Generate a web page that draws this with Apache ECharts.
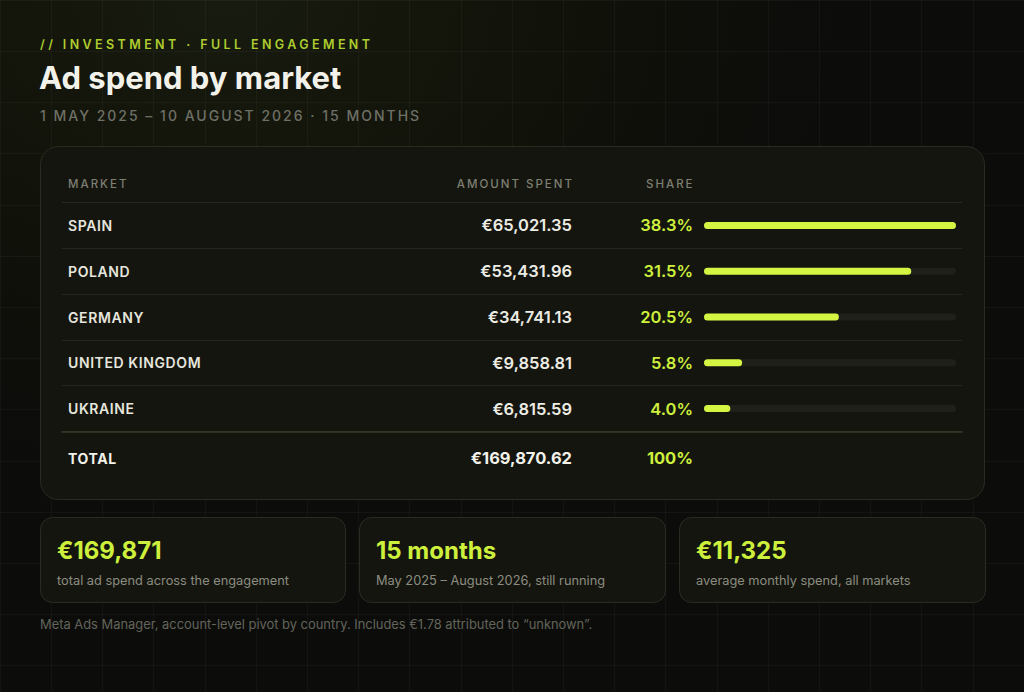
<!DOCTYPE html>
<html>
<head>
<meta charset="utf-8">
<title>Ad spend by market</title>
<script src="https://cdn.jsdelivr.net/npm/echarts@6.0.0/dist/echarts.min.js"></script>
<style>
  html, body { margin: 0; padding: 0; background: #0c0c0b; }
  #chart {
    width: 1024px;
    height: 692px;
    background: radial-gradient(ellipse 70% 80% at 22% 0%, #181b10 0%, #111209 45%, #0c0c0b 85%);
  }
  /* svg renderer: tracking for the small caps labels */
  #chart text[style*="lsWide"] { letter-spacing: 3.4px; }
  #chart text[style*="lsMid"] { letter-spacing: 2px; }
  #chart text[style*="lsNarrow"] { letter-spacing: 0.6px; }
</style>
</head>
<body>
<div id="chart"></div>
<script>
// --- data ---
const markets = ['SPAIN', 'POLAND', 'GERMANY', 'UNITED KINGDOM', 'UKRAINE'];
const amounts = [65021.35, 53431.96, 34741.13, 9858.81, 6815.59];
const shares = [38.3, 31.5, 20.5, 5.8, 4.0];
const totalLabel = 'TOTAL';
const totalAmount = 169870.62;
const totalShare = 100;
const columnHeads = ['MARKET', 'AMOUNT SPENT', 'SHARE'];

const statValues = ['€169,871', '15 months', '€11,325'];
const statNotes = [
  'total ad spend across the engagement',
  'May 2025 – August 2026, still running',
  'average monthly spend, all markets'
];

const eyebrow = '// INVESTMENT · FULL ENGAGEMENT';
const title = 'Ad spend by market';
const period = '1 MAY 2025 – 10 AUGUST 2026 · 15 MONTHS';
const footnote = 'Meta Ads Manager, account-level pivot by country. Includes €1.78 attributed to “unknown”.';

// --- style ---
const FONT = 'Inter, "Noto Sans", sans-serif';
const LIME = '#d4f542';
const LIME_TEXT = '#cdf03c';
const INK = '#ecece4';
const MUTED = '#7d7f72';
const CARD = '#15150f';
const CARD_EDGE = '#2a2b20';

const fmtEuro = (v) => '€' + v.toLocaleString('en-US', { minimumFractionDigits: 2, maximumFractionDigits: 2 });
const fmtShare = (v) => (v === 100 ? '100%' : v.toFixed(1) + '%');

// table geometry
const rowTop = 202.5;
const rowH = 45.8;
const barLeft = 704;
const barWidth = 252;

const chart = echarts.init(document.getElementById('chart'), null, { renderer: 'svg' });

const statCards = [
  { x: 40, w: 305 },
  { x: 359, w: 306 },
  { x: 679, w: 306 }
];

const graphics = [
  { type: 'rect', z: 1, shape: { x: 40.5, y: 146.5, width: 944, height: 353, r: 18 },
    style: { fill: CARD, stroke: CARD_EDGE, lineWidth: 1 } },
  { type: 'text', z: 5, left: 40, top: 38, style: { text: eyebrow, fill: '#aecd2e', font: '600 12.5px Inter, lsWide' } },
  { type: 'text', z: 5, left: 39, top: 62, style: { text: title, fill: '#f2f2ea', font: '700 31px ' + FONT } },
  { type: 'text', z: 5, left: 40, top: 108, style: { text: period, fill: '#6e7066', font: '500 14px Inter, lsMid' } },
  // column heads
  { type: 'text', z: 5, x: 68, y: 184, style: { text: columnHeads[0], fill: MUTED, font: '500 11.5px Inter, lsMid', verticalAlign: 'middle' } },
  { type: 'text', z: 5, x: 574, y: 184, style: { text: columnHeads[1], fill: MUTED, font: '500 11.5px Inter, lsMid', align: 'right', verticalAlign: 'middle' } },
  { type: 'text', z: 5, x: 646, y: 184, style: { text: columnHeads[2], fill: MUTED, font: '500 11.5px Inter, lsMid', verticalAlign: 'middle' } },
  // total row
  { type: 'text', z: 5, x: 68, y: 458, style: { text: totalLabel, fill: '#f2f2ea', font: '700 14px Inter, lsNarrow', verticalAlign: 'middle' } },
  { type: 'text', z: 5, x: 572, y: 458, style: { text: fmtEuro(totalAmount), fill: '#f2f2ea', font: '700 16.5px ' + FONT, align: 'right', verticalAlign: 'middle' } },
  { type: 'text', z: 5, x: 693, y: 458, style: { text: fmtShare(totalShare), fill: LIME_TEXT, font: '700 16.5px ' + FONT, align: 'right', verticalAlign: 'middle' } },
  // footnote
  { type: 'text', z: 5, x: 40, y: 624, style: { text: footnote, fill: '#62645a', font: '400 12.9px ' + FONT, verticalAlign: 'middle' } }
];

statCards.forEach((c, i) => {
  graphics.push(
    { type: 'rect', z: 1, shape: { x: c.x + 0.5, y: 517.5, width: c.w, height: 85, r: 12 },
      style: { fill: CARD, stroke: CARD_EDGE, lineWidth: 1 } },
    { type: 'text', z: 5, x: c.x + 17, y: 550, style: { text: statValues[i], fill: LIME_TEXT, font: '700 24px ' + FONT, verticalAlign: 'middle' } },
    { type: 'text', z: 5, x: c.x + 17, y: 580, style: { text: statNotes[i], fill: '#8b8d80', font: '400 12.8px ' + FONT, verticalAlign: 'middle' } }
  );
});

const hidden = { show: false };

const option = {
  animation: false,
  backgroundColor: 'transparent',
  grid: [
    // faint backdrop grid
    { left: 0, right: 0, top: 0, bottom: 0 },
    // full-width table rows (separators)
    { left: 62, width: 900, top: rowTop, height: rowH * markets.length },
    // share bars
    { left: barLeft, width: barWidth, top: rowTop, height: rowH * markets.length }
  ],
  xAxis: [
    { gridIndex: 0, type: 'value', min: 0, max: 1024, interval: 51.2, z: 0,
      axisLine: hidden, axisTick: hidden, axisLabel: hidden,
      splitLine: { show: true, lineStyle: { color: 'rgba(255,255,255,0.035)', width: 1 } } },
    { gridIndex: 1, type: 'value', position: 'bottom', z: 2,
      axisLine: { show: true, lineStyle: { color: '#393b2a', width: 1.5 } },
      axisTick: hidden, axisLabel: hidden, splitLine: hidden },
    { gridIndex: 2, type: 'value', min: 0, max: Math.max(...shares), show: false }
  ],
  yAxis: [
    { gridIndex: 0, type: 'value', min: 0, max: 692, interval: 51.2, inverse: true, z: 0,
      axisLine: hidden, axisTick: hidden, axisLabel: hidden,
      splitLine: { show: true, lineStyle: { color: 'rgba(255,255,255,0.035)', width: 1 } } },
    { gridIndex: 1, type: 'category', data: markets, inverse: true, position: 'left', z: 2,
      axisLine: hidden, axisTick: hidden, axisLabel: hidden,
      splitLine: { show: true, lineStyle: { color: '#25261d', width: 1 } } },
    { gridIndex: 2, type: 'category', data: markets, inverse: true, position: 'left', z: 3,
      axisLine: hidden, axisTick: hidden, splitLine: hidden,
      axisLabel: { align: 'left', margin: barLeft - 68, color: '#e6e6de', fontSize: 14, fontWeight: 600,
        fontFamily: 'Inter, lsNarrow' } },
    { gridIndex: 2, type: 'category', data: markets, inverse: true, position: 'left', z: 3,
      axisLine: hidden, axisTick: hidden, splitLine: hidden,
      axisLabel: { align: 'right', margin: barLeft - 572, color: INK, fontSize: 16.5, fontWeight: 600,
        fontFamily: FONT, formatter: (v, i) => fmtEuro(amounts[i]) } },
    { gridIndex: 2, type: 'category', data: markets, inverse: true, position: 'left', z: 3,
      axisLine: hidden, axisTick: hidden, splitLine: hidden,
      axisLabel: { align: 'right', margin: barLeft - 693, color: LIME_TEXT, fontSize: 16.5, fontWeight: 600,
        fontFamily: FONT, formatter: (v, i) => fmtShare(shares[i]) } }
  ],
  graphic: { elements: graphics },
  series: [
    {
      type: 'bar',
      xAxisIndex: 2,
      yAxisIndex: 2,
      data: shares,
      barWidth: 7,
      z: 4,
      itemStyle: { color: LIME, borderRadius: 3.5 },
      showBackground: true,
      backgroundStyle: { color: '#1f2019', borderRadius: 3.5 },
      silent: true
    }
  ]
};

chart.setOption(option);
</script>
</body>
</html>
